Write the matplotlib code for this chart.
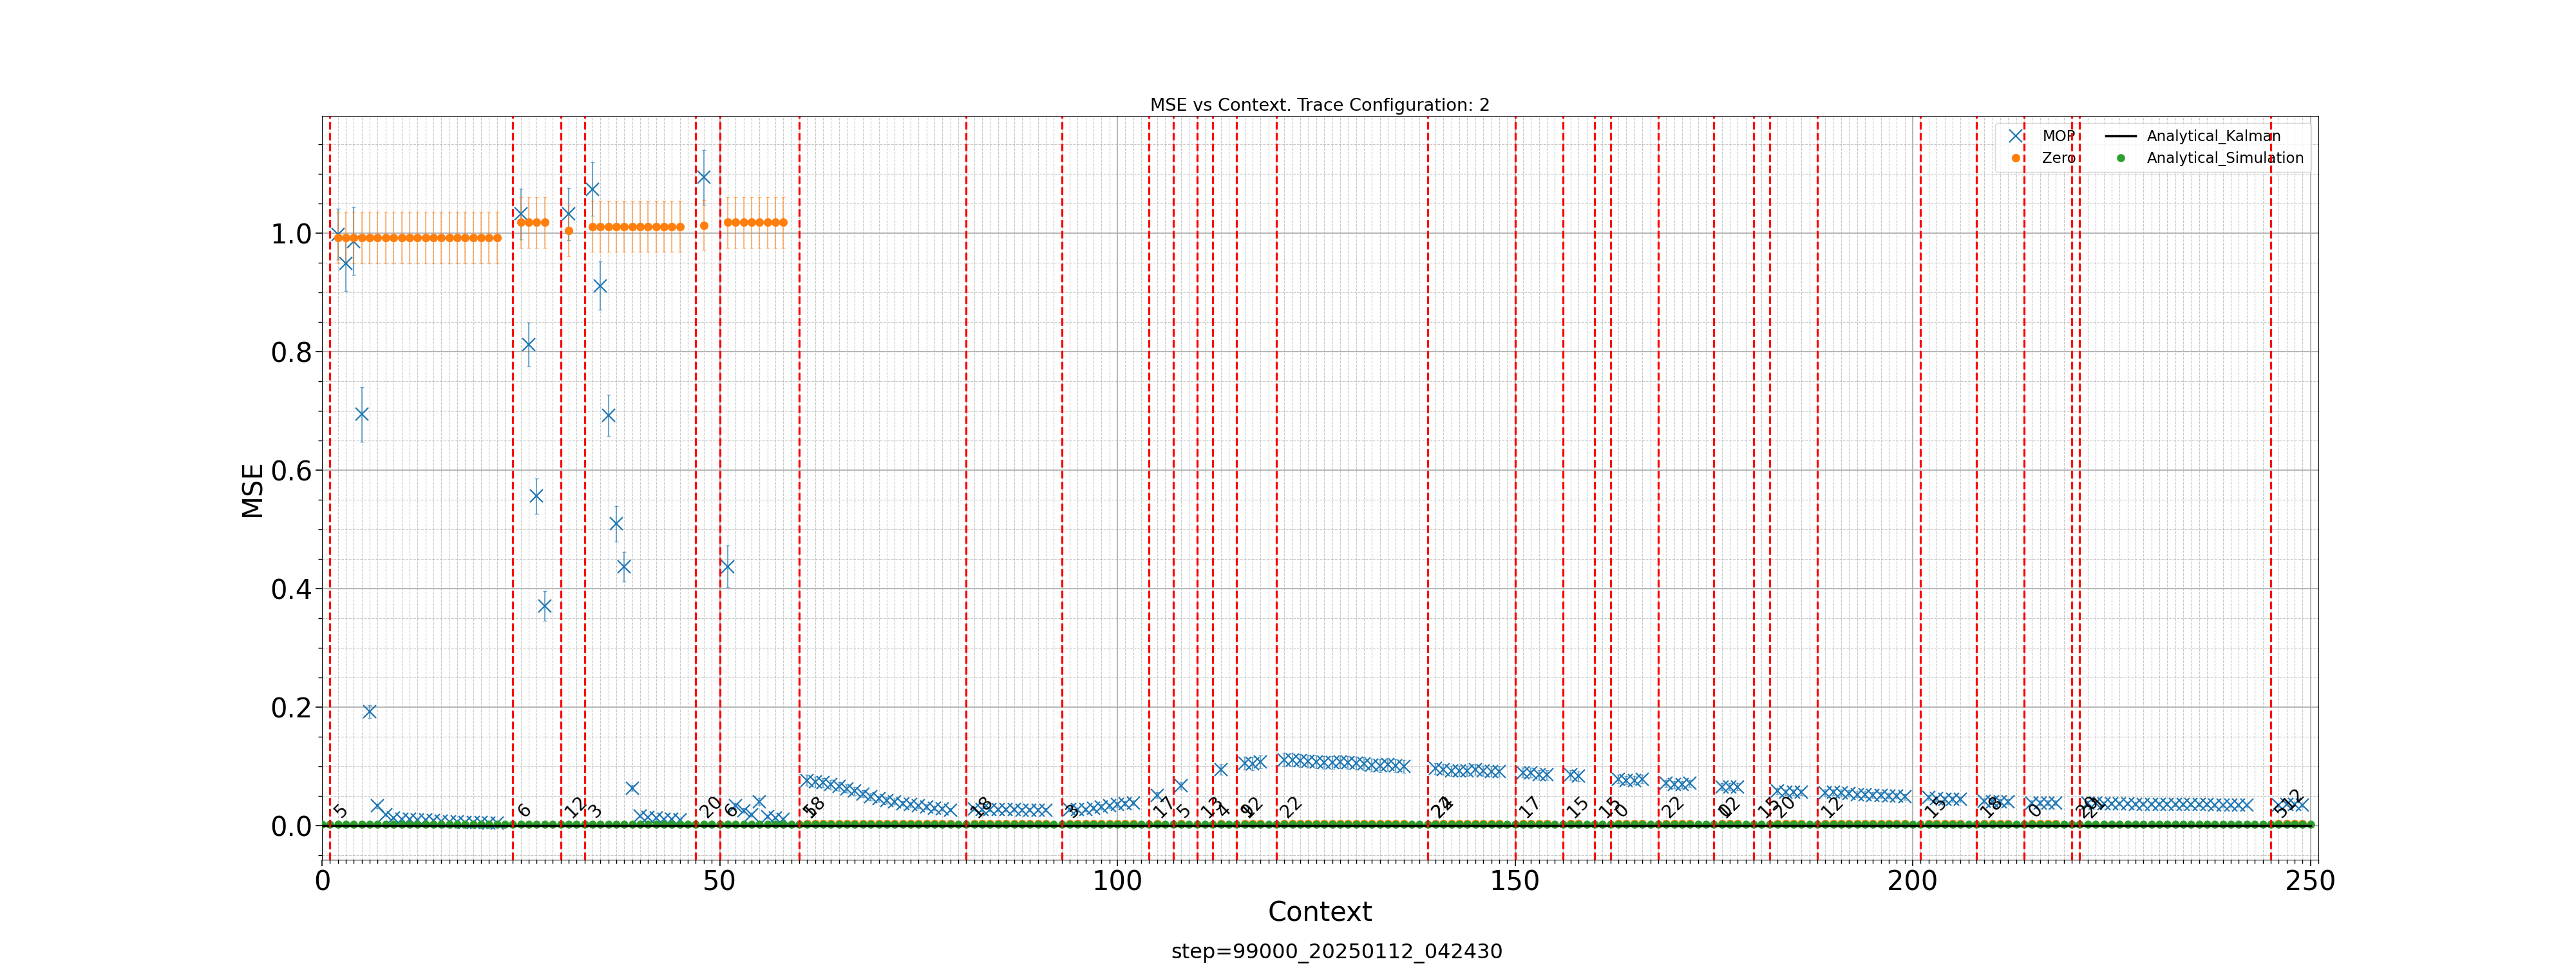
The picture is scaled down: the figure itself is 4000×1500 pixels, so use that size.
import numpy as np
import matplotlib
matplotlib.use("Agg")
import matplotlib.pyplot as plt
from matplotlib.ticker import MultipleLocator

# ---------------- data ----------------
# red dashed segment boundaries (context index) and the label(s) written at each
boundaries = [1, 24, 30, 33, 47, 50, 60, 81, 93, 104, 107, 110, 112, 115, 120,
              139, 150, 156, 160, 162, 168, 175, 180, 182, 188, 201, 208, 214,
              220, 221, 245]
boundary_labels = [["5"], ["6"], ["12"], ["3"], ["20"], ["6"], ["5", "18"], ["18"],
                   ["3"], ["17"], ["5"], ["13"], ["4"], ["9", "12"], ["22"],
                   ["22", "24"], ["17"], ["15"], ["15"], ["0"], ["22"], ["0", "12"],
                   ["15"], ["20"], ["12"], ["15"], ["18"], ["0"], ["20"], ["21"],
                   ["512"]]
# number of evaluated context points following each boundary
segment_counts = [21, 4, 1, 12, 1, 8, 19, 10, 9, 1, 1, 0, 1, 3, 16, 9, 4, 2, 0,
                  4, 4, 3, 0, 4, 11, 5, 4, 4, 0, 21, 4]

mop_mse = [
    0.998, 0.949, 0.986, 0.694, 0.192, 0.033, 0.018, 0.013, 0.011, 0.010, 0.009,
    0.009, 0.008, 0.007, 0.006, 0.006, 0.005, 0.005, 0.005, 0.004, 0.004,
    1.032, 0.812, 0.556, 0.370,
    1.032,
    1.074, 0.911, 0.692, 0.509, 0.437, 0.063, 0.016, 0.014, 0.013, 0.011, 0.010, 0.009,
    1.094,
    0.437, 0.033, 0.025, 0.018, 0.040, 0.015, 0.013, 0.011,
    0.076, 0.073, 0.072, 0.069, 0.066, 0.062, 0.058, 0.053, 0.048, 0.045, 0.042,
    0.040, 0.037, 0.035, 0.033, 0.031, 0.029, 0.028, 0.026,
    0.028, 0.027, 0.027, 0.027, 0.027, 0.027, 0.026, 0.026, 0.026, 0.026,
    0.027, 0.027, 0.027, 0.029, 0.031, 0.033, 0.035, 0.037, 0.038,
    0.051,
    0.067,
    0.094,
    0.105, 0.104, 0.107,
    0.111, 0.111, 0.109, 0.108, 0.107, 0.106, 0.106, 0.107, 0.106, 0.105, 0.104,
    0.102, 0.101, 0.103, 0.101, 0.100,
    0.096, 0.094, 0.092, 0.092, 0.092, 0.094, 0.092, 0.091, 0.091,
    0.089, 0.089, 0.085, 0.085,
    0.085, 0.083,
    0.078, 0.076, 0.076, 0.078,
    0.071, 0.069, 0.069, 0.071,
    0.065, 0.065, 0.065,
    0.058, 0.056, 0.056, 0.056,
    0.055, 0.056, 0.055, 0.054, 0.052, 0.052, 0.051, 0.051, 0.050, 0.050, 0.048,
    0.047, 0.045, 0.044, 0.044, 0.044,
    0.041, 0.040, 0.040, 0.040,
    0.038, 0.038, 0.038, 0.038,
    0.038, 0.038, 0.037, 0.037, 0.037, 0.037, 0.036, 0.036, 0.036, 0.036, 0.036,
    0.035, 0.035, 0.035, 0.035, 0.035, 0.034, 0.034, 0.034, 0.034, 0.034,
    0.034, 0.036, 0.036, 0.034,
]
mop_err = [
    0.043, 0.047, 0.057, 0.046, 0.011, 0.004, 0.002, 0.002, 0.002, 0.002, 0.002,
    0.002, 0.002, 0.001, 0.001, 0.001, 0.001, 0.001, 0.001, 0.001, 0.001,
    0.043, 0.037, 0.030, 0.025,
    0.044,
    0.045, 0.041, 0.035, 0.030, 0.025, 0.005, 0.002, 0.002, 0.002, 0.002, 0.002, 0.002,
    0.046,
    0.035, 0.005, 0.004, 0.003, 0.006, 0.003, 0.002, 0.002,
    0.009, 0.009, 0.008, 0.008, 0.008, 0.007, 0.007, 0.006, 0.006, 0.005, 0.005,
    0.005, 0.004, 0.004, 0.004, 0.004, 0.003, 0.003, 0.003,
    0.003, 0.003, 0.003, 0.003, 0.003, 0.003, 0.003, 0.003, 0.003, 0.003,
    0.003, 0.003, 0.003, 0.003, 0.004, 0.004, 0.004, 0.004, 0.004,
    0.005,
    0.007,
    0.009,
    0.011, 0.011, 0.011,
    0.011, 0.011, 0.011, 0.011, 0.011, 0.011, 0.011, 0.011, 0.011, 0.011, 0.011,
    0.011, 0.011, 0.011, 0.011, 0.011,
    0.009, 0.009, 0.009, 0.009, 0.009, 0.009, 0.009, 0.009, 0.009,
    0.008, 0.008, 0.008, 0.008,
    0.008, 0.008,
    0.007, 0.007, 0.007, 0.007,
    0.006, 0.006, 0.006, 0.006,
    0.006, 0.006, 0.006,
    0.005, 0.005, 0.005, 0.005,
    0.005, 0.005, 0.005, 0.005, 0.005, 0.005, 0.005, 0.005, 0.005, 0.005, 0.005,
    0.004, 0.004, 0.004, 0.004, 0.004,
    0.004, 0.004, 0.004, 0.004,
    0.004, 0.004, 0.004, 0.004,
    0.003, 0.003, 0.003, 0.003, 0.003, 0.003, 0.003, 0.003, 0.003, 0.003, 0.003,
    0.003, 0.003, 0.003, 0.003, 0.003, 0.003, 0.003, 0.003, 0.003, 0.003,
    0.003, 0.003, 0.003, 0.003,
]

# Zero predictor, one value per segment (same for all points in a segment)
zero_segment_mse = [0.992, 1.018, 1.004, 1.011, 1.013, 1.018, 0.003, 0.003, 0.003,
                    0.003, 0.003, 0.003, 0.003, 0.003, 0.003, 0.003, 0.003, 0.003,
                    0.003, 0.003, 0.003, 0.003, 0.003, 0.003, 0.003, 0.003, 0.003,
                    0.003, 0.003, np.nan, 0.003]
zero_segment_err = [0.043, 0.043, 0.044, 0.043, 0.042, 0.043, 0.001, 0.001, 0.001,
                    0.001, 0.001, 0.001, 0.001, 0.001, 0.001, 0.001, 0.001, 0.001,
                    0.001, 0.001, 0.001, 0.001, 0.001, 0.001, 0.001, 0.001, 0.001,
                    0.001, 0.001, 0.001, 0.001]

context_end = 250
analytical_sim_level = 0.0015
analytical_kalman_level = 0.0

title = "MSE vs Context. Trace Configuration: 2"
step_text = "step=99000_20250112_042430"

# ---------------- build positions ----------------
mop_x, zero_y, zero_e = [], [], []
for r, n, zv, ze in zip(boundaries, segment_counts, zero_segment_mse, zero_segment_err):
    mop_x.extend(range(r + 1, r + 1 + n))
    zero_y.extend([zv] * n)
    zero_e.extend([ze] * n)
mop_x = np.array(mop_x)
assert len(mop_x) == len(mop_mse) == len(mop_err)
context = np.arange(0, context_end + 1)

# ---------------- plot ----------------
fig, ax = plt.subplots(figsize=(40, 15), dpi=100)
ax.set_axisbelow(True)

ax.errorbar(mop_x, mop_mse, yerr=mop_err, fmt='none', ecolor='C0',
            elinewidth=1.5, capsize=2.5, alpha=0.6, zorder=2)
h_mop, = ax.plot(mop_x, mop_mse, 'x', color='C0', ms=15, mew=1.6,
                 ls='none', zorder=3, label='MOP')
ax.errorbar(mop_x, zero_y, yerr=zero_e, fmt='none', ecolor='C1',
            elinewidth=1.5, capsize=2.5, alpha=0.5, zorder=2)
h_zero, = ax.plot(mop_x, zero_y, 'o', color='C1', ms=8.5, ls='none',
                  zorder=3, label='Zero')
h_sim, = ax.plot(context, [analytical_sim_level] * len(context), 'o', color='C2',
                 ms=8, ls='none', zorder=4, label='Analytical_Simulation')
h_kal, = ax.plot(context, [analytical_kalman_level] * len(context), '-',
                 color='black', lw=2.5, zorder=5, label='Analytical_Kalman')

for r, labs in zip(boundaries, boundary_labels):
    ax.axvline(r, color='red', ls='--', lw=2.3, zorder=6)
    for s in labs:
        ax.text(r + 0.15, 0.007, s, rotation=45, fontsize=20,
                ha='left', va='bottom', zorder=7)

ax.set_xlim(0, 251)
ax.set_ylim(-0.058, 1.1975)
ax.xaxis.set_major_locator(MultipleLocator(50))
ax.xaxis.set_minor_locator(MultipleLocator(1))
ax.yaxis.set_major_locator(MultipleLocator(0.2))
ax.yaxis.set_minor_locator(MultipleLocator(0.05))
ax.grid(which='major', color='#b0b0b0', lw=1.3)
ax.grid(which='minor', color='#b0b0b0', ls='--', lw=0.8, alpha=0.7)
ax.tick_params(which='major', labelsize=30, length=7, width=1.2)
ax.tick_params(which='minor', length=4, width=1)

ax.set_title(title, fontsize=19.5)
ax.set_xlabel("Context", fontsize=30)
ax.set_ylabel("MSE", fontsize=30)
ax.legend(handles=[h_mop, h_zero, h_kal, h_sim], ncol=2, loc='upper right',
          fontsize=16.5)
fig.text(0.519, 0.003, step_text, ha='center', va='bottom', fontsize=23)

fig.savefig("out.png", dpi=100)
